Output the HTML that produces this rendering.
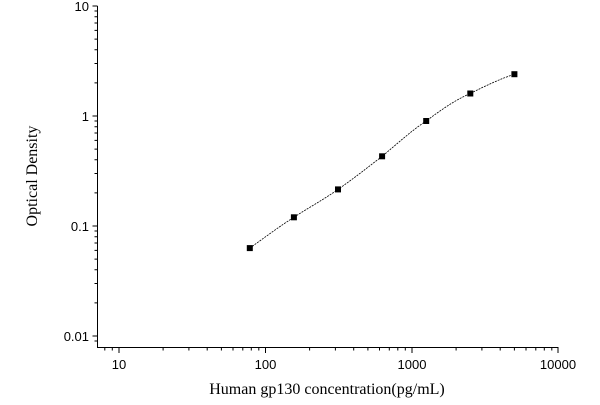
<!DOCTYPE html>
<html><head><style>body{margin:0;background:#fff}</style></head><body>
<svg width="600" height="400" xmlns="http://www.w3.org/2000/svg">
<g stroke="#000" stroke-width="1" fill="none">
<line x1="97.5" y1="6" x2="97.5" y2="347.5"/>
<line x1="97" y1="347.5" x2="558.5" y2="347.5"/>
<path d="M92.5,6H97.5M92.5,116H97.5M92.5,226H97.5M92.5,336H97.5
M94.5,82.9H97.5M94.5,63.5H97.5M94.5,49.8H97.5M94.5,39.1H97.5M94.5,30.4H97.5M94.5,23H97.5M94.5,16.7H97.5M94.5,11H97.5
M94.5,192.9H97.5M94.5,173.5H97.5M94.5,159.8H97.5M94.5,149.1H97.5M94.5,140.4H97.5M94.5,133H97.5M94.5,126.7H97.5M94.5,121H97.5
M94.5,302.9H97.5M94.5,283.5H97.5M94.5,269.8H97.5M94.5,259.1H97.5M94.5,250.4H97.5M94.5,243H97.5M94.5,236.7H97.5M94.5,231H97.5
M94.5,341H97.5
M119,347.5V353M265.5,347.5V353M412,347.5V353M558,347.5V353
M104.8,347.5V350.5M112.3,347.5V350.5
M163.1,347.5V350.5M188.9,347.5V350.5M207.2,347.5V350.5M221.4,347.5V350.5M233,347.5V350.5M242.8,347.5V350.5M251.3,347.5V350.5M258.8,347.5V350.5
M309.6,347.5V350.5M335.4,347.5V350.5M353.7,347.5V350.5M367.9,347.5V350.5M379.5,347.5V350.5M389.3,347.5V350.5M397.8,347.5V350.5M405.3,347.5V350.5
M456.1,347.5V350.5M481.9,347.5V350.5M500.2,347.5V350.5M514.4,347.5V350.5M526,347.5V350.5M535.8,347.5V350.5M544.3,347.5V350.5M551.8,347.5V350.5"/>
</g>
<g font-family="Liberation Sans, sans-serif" font-size="13" fill="#000">
<text x="89" y="11" text-anchor="end">10</text>
<text x="89" y="121" text-anchor="end">1</text>
<text x="89" y="231" text-anchor="end">0.1</text>
<text x="89" y="341" text-anchor="end">0.01</text>
<text x="119" y="369" text-anchor="middle">10</text>
<text x="265.5" y="369" text-anchor="middle">100</text>
<text x="412" y="369" text-anchor="middle">1000</text>
<text x="558" y="369" text-anchor="middle">10000</text>
</g>
<g font-family="Liberation Serif, serif" font-size="16" fill="#000">
<text x="327" y="394" text-anchor="middle">Human gp130 concentration(pg/mL)</text>
<text transform="translate(37,176) rotate(-90)" text-anchor="middle">Optical Density</text>
</g>
<path d="M249.8,248.1 C264,238 280,226 293.9,217.3 C308,208 323,200 338,189.4 C353,179 367,168 382.1,156.3 C397,144 411,131 426.2,121 C441,110 455,100 470.3,93.5 C485,86 500,79 514.4,74.2" stroke="#000" stroke-width="0.8" stroke-dasharray="2,1" fill="none"/>
<g fill="#000">
<rect x="246.8" y="245.1" width="6" height="6"/>
<rect x="290.9" y="214.3" width="6" height="6"/>
<rect x="335" y="186.4" width="6" height="6"/>
<rect x="379.1" y="153.3" width="6" height="6"/>
<rect x="423.2" y="118" width="6" height="6"/>
<rect x="467.3" y="90.5" width="6" height="6"/>
<rect x="511.4" y="71.2" width="6" height="6"/>
</g>
</svg>
</body></html>
